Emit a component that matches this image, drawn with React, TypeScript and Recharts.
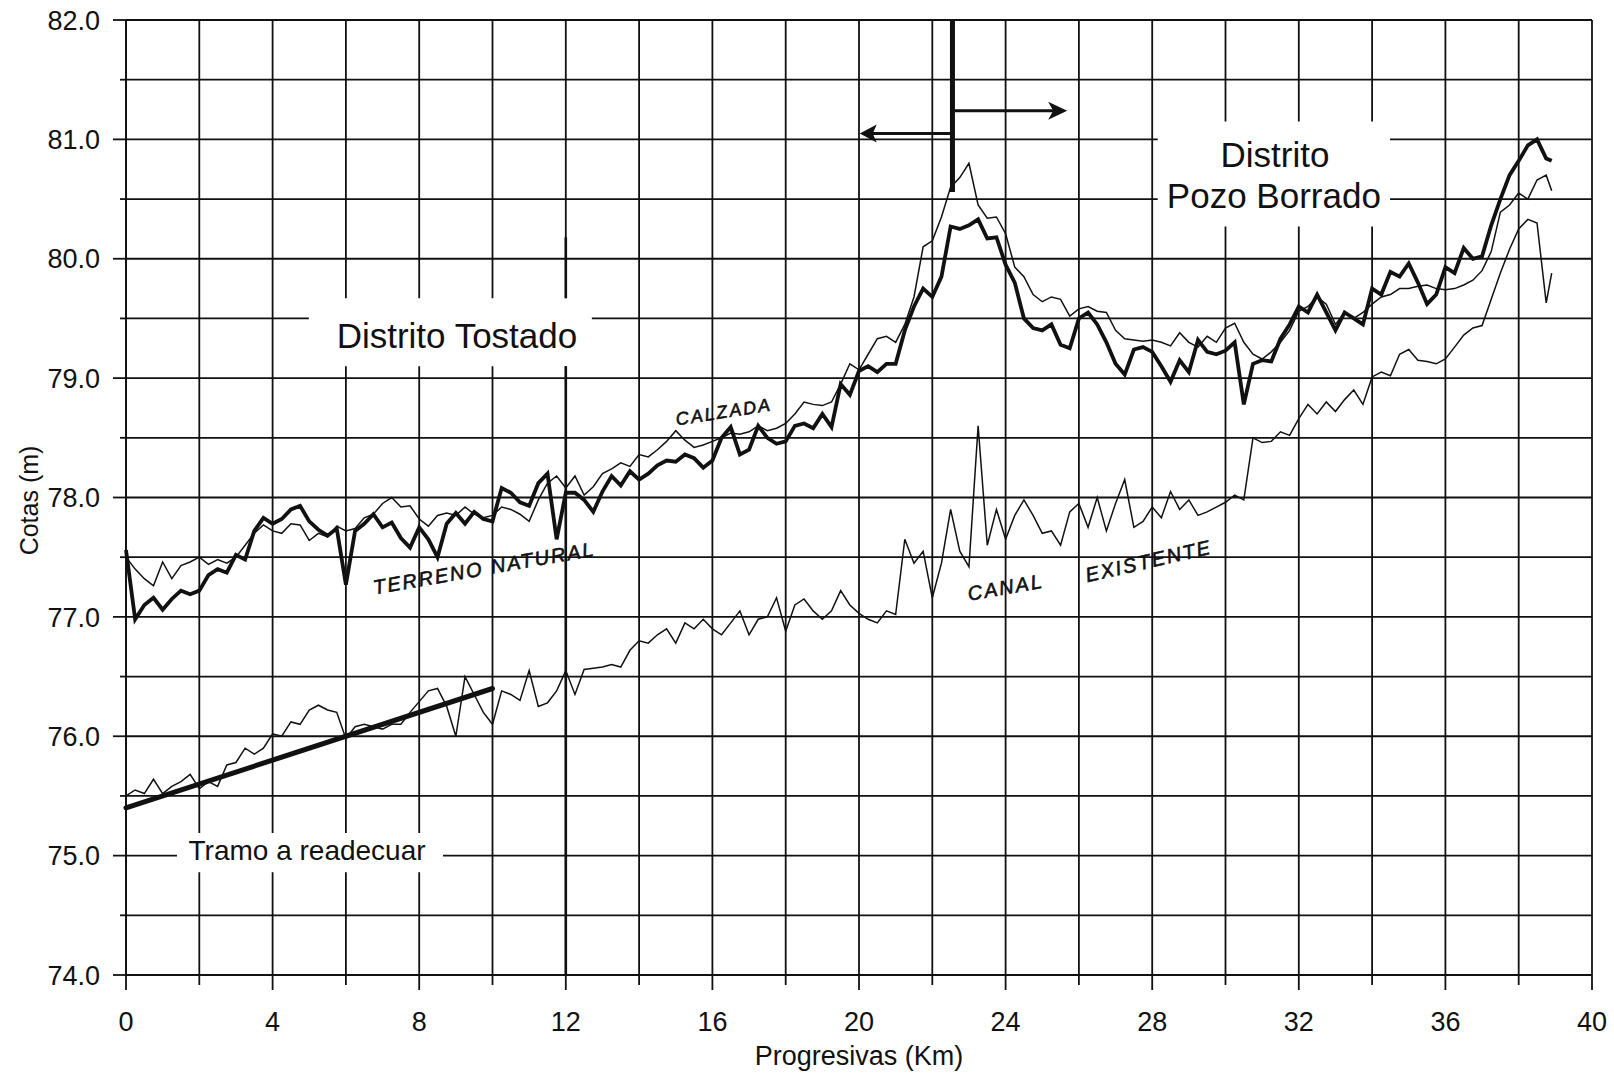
import {
  CartesianGrid,
  Line,
  LineChart,
  ReferenceArea,
  ReferenceDot,
  ReferenceLine,
  XAxis,
  YAxis,
} from "recharts";

// progresivas cada 250 m (km), ultimo punto al final del relevamiento
const progresivas = Array.from({ length: 156 }, (_, i) => i * 0.25).concat(38.9);

// linea gruesa
const cotaCalzada = [
  77.56, 76.98, 77.10, 77.16, 77.06, 77.15, 77.22, 77.19,
  77.22, 77.35, 77.40, 77.37, 77.52, 77.48, 77.72, 77.83,
  77.78, 77.82, 77.90, 77.93, 77.80, 77.73, 77.68, 77.74,
  77.27, 77.72, 77.78, 77.86, 77.75, 77.79, 77.66, 77.58,
  77.75, 77.65, 77.50, 77.78, 77.87, 77.78, 77.88, 77.82,
  77.80, 78.08, 78.04, 77.96, 77.93, 78.12, 78.20, 77.65,
  78.04, 78.04, 77.98, 77.88, 78.05, 78.18, 78.10, 78.22,
  78.15, 78.20, 78.27, 78.31, 78.30, 78.36, 78.33, 78.25,
  78.31, 78.50, 78.59, 78.36, 78.40, 78.60, 78.50, 78.45,
  78.47, 78.60, 78.62, 78.58, 78.70, 78.59, 78.95, 78.86,
  79.06, 79.10, 79.05, 79.12, 79.12, 79.40, 79.60, 79.75,
  79.68, 79.85, 80.27, 80.25, 80.28, 80.33, 80.17, 80.18,
  79.95, 79.80, 79.50, 79.42, 79.40, 79.45, 79.28, 79.25,
  79.50, 79.55, 79.45, 79.30, 79.12, 79.03, 79.24, 79.26,
  79.22, 79.10, 78.97, 79.15, 79.05, 79.32, 79.22, 79.20,
  79.23, 79.30, 78.78, 79.12, 79.15, 79.14, 79.33, 79.45,
  79.60, 79.55, 79.70, 79.55, 79.40, 79.55, 79.50, 79.45,
  79.75, 79.70, 79.89, 79.85, 79.96, 79.80, 79.62, 79.70,
  79.93, 79.88, 80.09, 80.00, 80.02, 80.28, 80.50, 80.70,
  80.82, 80.95, 81.00, 80.84, 80.82,
];

// linea fina superior
const cotaTerreno = [
  77.50, 77.40, 77.32, 77.26, 77.46, 77.32, 77.43, 77.46,
  77.50, 77.44, 77.48, 77.45, 77.50, 77.60, 77.70, 77.77,
  77.72, 77.70, 77.78, 77.77, 77.64, 77.70, 77.67, 77.76,
  77.72, 77.74, 77.83, 77.86, 77.95, 78.00, 77.92, 77.93,
  77.82, 77.76, 77.85, 77.87, 77.85, 77.92, 77.86, 77.83,
  77.85, 77.92, 77.90, 77.86, 77.80, 77.98, 78.12, 78.18,
  78.08, 78.18, 78.02, 78.09, 78.20, 78.24, 78.29, 78.26,
  78.36, 78.34, 78.40, 78.47, 78.56, 78.48, 78.42, 78.44,
  78.47, 78.50, 78.54, 78.53, 78.55, 78.60, 78.56, 78.58,
  78.62, 78.70, 78.80, 78.78, 78.77, 78.80, 78.95, 79.12,
  79.07, 79.20, 79.33, 79.35, 79.30, 79.45, 79.68, 80.10,
  80.15, 80.35, 80.60, 80.68, 80.80, 80.45, 80.34, 80.35,
  80.21, 79.93, 79.85, 79.70, 79.64, 79.68, 79.66, 79.52,
  79.58, 79.60, 79.56, 79.55, 79.40, 79.33, 79.32, 79.31,
  79.32, 79.30, 79.27, 79.38, 79.30, 79.26, 79.35, 79.30,
  79.42, 79.46, 79.30, 79.20, 79.16, 79.22, 79.30, 79.40,
  79.56, 79.60, 79.68, 79.62, 79.45, 79.55, 79.50, 79.55,
  79.62, 79.68, 79.70, 79.75, 79.75, 79.77, 79.78, 79.75,
  79.74, 79.75, 79.78, 79.82, 79.90, 80.06, 80.39, 80.45,
  80.55, 80.50, 80.66, 80.70, 80.57,
];

// canal existente
const cotaCanal = [
  75.50, 75.55, 75.52, 75.64, 75.52, 75.58, 75.62, 75.68,
  75.56, 75.62, 75.58, 75.76, 75.78, 75.90, 75.85, 75.90,
  76.02, 76.00, 76.12, 76.10, 76.22, 76.26, 76.22, 76.20,
  75.98, 76.08, 76.10, 76.08, 76.06, 76.10, 76.10, 76.20,
  76.29, 76.38, 76.40, 76.25, 76.00, 76.50, 76.35, 76.20,
  76.10, 76.38, 76.35, 76.30, 76.55, 76.25, 76.28, 76.38,
  76.55, 76.35, 76.56, 76.57, 76.58, 76.60, 76.58, 76.72,
  76.80, 76.78, 76.85, 76.90, 76.78, 76.95, 76.90, 76.98,
  76.90, 76.85, 76.95, 77.05, 76.85, 76.98, 77.00, 77.16,
  76.88, 77.10, 77.15, 77.05, 76.98, 77.05, 77.22, 77.10,
  77.03, 76.98, 76.95, 77.05, 77.02, 77.65, 77.45, 77.55,
  77.16, 77.45, 77.90, 77.55, 77.42, 78.60, 77.60, 77.90,
  77.65, 77.85, 77.98, 77.85, 77.70, 77.72, 77.60, 77.88,
  77.95, 77.75, 78.00, 77.72, 77.95, 78.15, 77.75, 77.80,
  77.92, 77.83, 78.05, 77.90, 77.98, 77.85, 77.88, 77.92,
  77.96, 78.02, 77.98, 78.50, 78.46, 78.47, 78.55, 78.52,
  78.66, 78.78, 78.70, 78.80, 78.72, 78.82, 78.90, 78.78,
  79.01, 79.05, 79.02, 79.20, 79.24, 79.15, 79.14, 79.12,
  79.16, 79.26, 79.36, 79.42, 79.44, 79.66, 79.88, 80.08,
  80.25, 80.33, 80.30, 79.63, 79.88,
];

// tramo a readecuar (recta de proyecto)
const tramoKm = [0, 10];
const tramoCota = [75.4, 76.4];

const xTicks = [0, 2, 4, 6, 8, 10, 12, 14, 16, 18, 20, 22, 24, 26, 28, 30, 32, 34, 36, 38, 40];
const yTicks = [74, 74.5, 75, 75.5, 76, 76.5, 77, 77.5, 78, 78.5, 79, 79.5, 80, 80.5, 81, 81.5, 82];

const rows = progresivas.map((km, i) => ({
  km,
  calzada: cotaCalzada[i],
  terreno: cotaTerreno[i],
  canal: cotaCanal[i],
}));
const tramoRows = tramoKm.map((km, i) => ({ km, cota: tramoCota[i] }));

const INK = "#111";
const FONT = "'Liberation Sans', Arial, sans-serif";

const YTick = (props: any) => {
  const { x, y, payload } = props;
  const v = payload.value as number;
  const major = Number.isInteger(v);
  return (
    <g>
      <line x1={x - (major ? 13 : 6)} x2={x} y1={y} y2={y} stroke={INK} strokeWidth={1.8} />
      {major && (
        <text x={x - 26} y={y} dy="0.36em" textAnchor="end" fontSize={27} fontFamily={FONT} fill={INK}>
          {v.toFixed(1)}
        </text>
      )}
    </g>
  );
};

const XTick = (props: any) => {
  const { x, y, payload } = props;
  const v = payload.value as number;
  const major = v % 4 === 0;
  return (
    <g>
      <line x1={x} x2={x} y1={y} y2={y + (major ? 15 : 10)} stroke={INK} strokeWidth={1.8} />
      {major && (
        <text x={x} y={y + 56} textAnchor="middle" fontSize={27} fontFamily={FONT} fill={INK}>
          {v}
        </text>
      )}
    </g>
  );
};

const textShape =
  (label: string, size: number, angle = 0, extra: any = {}) =>
  (p: any) => (
    <text
      x={p.cx}
      y={p.cy}
      dy="0.36em"
      textAnchor="middle"
      fontSize={size}
      fontFamily={FONT}
      fill={INK}
      transform={angle ? `rotate(${angle} ${p.cx} ${p.cy})` : undefined}
      {...extra}
    >
      {label}
    </text>
  );

// rotulos escritos a mano
const hand = { fontStyle: "italic", letterSpacing: 2, stroke: INK, strokeWidth: 0.6 };

const arrowLeft = (p: any) => (
  <polygon
    points={`${p.cx},${p.cy} ${p.cx + 17},${p.cy - 9} ${p.cx + 13},${p.cy} ${p.cx + 17},${p.cy + 9}`}
    fill={INK}
  />
);
const arrowRight = (p: any) => (
  <polygon
    points={`${p.cx},${p.cy} ${p.cx - 19},${p.cy - 9} ${p.cx - 14},${p.cy} ${p.cx - 19},${p.cy + 9}`}
    fill={INK}
  />
);

export default function App() {
  return (
    <div style={{ position: "absolute", left: 0, top: 0, background: "#fff", fontFamily: FONT }}>
      <LineChart width={1614} height={1076} data={rows} margin={{ top: 20, right: 22, left: 0, bottom: 0 }}>
        <CartesianGrid stroke={INK} strokeWidth={1.8} />
        <XAxis
          dataKey="km"
          type="number"
          domain={[0, 40]}
          ticks={xTicks}
          interval={0}
          height={101}
          tickSize={0}
          tickMargin={0}
          tickLine={false}
          tick={<XTick />}
          axisLine={{ stroke: INK, strokeWidth: 1.8 }}
          label={{
            content: (p: any) => (
              <text
                x={p.viewBox.x + p.viewBox.width / 2}
                y={1065}
                textAnchor="middle"
                fontSize={27}
                fontFamily={FONT}
                fill={INK}
              >
                Progresivas (Km)
              </text>
            ),
          }}
        />
        <YAxis
          type="number"
          domain={[74, 82]}
          ticks={yTicks}
          interval={0}
          width={126}
          tickSize={0}
          tickMargin={0}
          tickLine={false}
          tick={<YTick />}
          axisLine={{ stroke: INK, strokeWidth: 1.8 }}
          label={{
            content: (p: any) => {
              const cy = p.viewBox.y + p.viewBox.height / 2 + 3;
              return (
                <text
                  x={29}
                  y={cy}
                  dy="0.36em"
                  textAnchor="middle"
                  fontSize={25}
                  fontFamily={FONT}
                  fill={INK}
                  transform={`rotate(-90 29 ${cy})`}
                >
                  Cotas (m)
                </text>
              );
            },
          }}
        />

        {/* fondos blancos de los rotulos */}
        <ReferenceArea x1={4.99} x2={12.71} y1={79.1} y2={79.67} fill="#fff" fillOpacity={1} stroke="none" />
        <ReferenceArea x1={28.15} x2={34.49} y1={80.27} y2={81.15} fill="#fff" fillOpacity={1} stroke="none" />
        <ReferenceArea x1={1.39} x2={8.65} y1={74.86} y2={75.19} fill="#fff" fillOpacity={1} stroke="none" />

        <Line dataKey="canal" stroke={INK} strokeWidth={1.5} dot={false} isAnimationActive={false} />
        <Line dataKey="terreno" stroke={INK} strokeWidth={1.5} dot={false} isAnimationActive={false} />
        <Line dataKey="calzada" stroke={INK} strokeWidth={3.8} dot={false} isAnimationActive={false} />
        <Line
          data={tramoRows}
          dataKey="cota"
          stroke={INK}
          strokeWidth={5}
          strokeLinecap="round"
          dot={false}
          isAnimationActive={false}
        />

        {/* limites de distritos */}
        <ReferenceLine segment={[{ x: 12, y: 80.18 }, { x: 12, y: 79.67 }]} stroke={INK} strokeWidth={2.6} />
        <ReferenceLine segment={[{ x: 12, y: 79.1 }, { x: 12, y: 74 }]} stroke={INK} strokeWidth={2.6} />
        <ReferenceLine segment={[{ x: 22.55, y: 82 }, { x: 22.55, y: 80.56 }]} stroke={INK} strokeWidth={5} />
        <ReferenceLine segment={[{ x: 22.55, y: 81.05 }, { x: 20.2, y: 81.05 }]} stroke={INK} strokeWidth={3} />
        <ReferenceLine segment={[{ x: 22.6, y: 81.24 }, { x: 25.5, y: 81.24 }]} stroke={INK} strokeWidth={3} />
        <ReferenceDot x={20.02} y={81.05} r={0} shape={arrowLeft} />
        <ReferenceDot x={25.68} y={81.24} r={0} shape={arrowRight} />

        {/* rotulos */}
        <ReferenceDot x={9.03} y={79.36} r={0} shape={textShape("Distrito Tostado", 35)} />
        <ReferenceDot x={31.35} y={80.87} r={0} shape={textShape("Distrito", 35)} />
        <ReferenceDot x={31.32} y={80.53} r={0} shape={textShape("Pozo Borrado", 35)} />
        <ReferenceDot x={4.94} y={75.05} r={0} shape={textShape("Tramo a readecuar", 28)} />
        <ReferenceDot x={9.77} y={77.41} r={0} shape={textShape("TERRENO NATURAL", 20, -10, hand)} />
        <ReferenceDot x={16.31} y={78.72} r={0} shape={textShape("CALZADA", 18, -9, hand)} />
        <ReferenceDot x={24.0} y={77.25} r={0} shape={textShape("CANAL", 20, -10, hand)} />
        <ReferenceDot x={27.9} y={77.47} r={0} shape={textShape("EXISTENTE", 20, -13, hand)} />
      </LineChart>
    </div>
  );
}
